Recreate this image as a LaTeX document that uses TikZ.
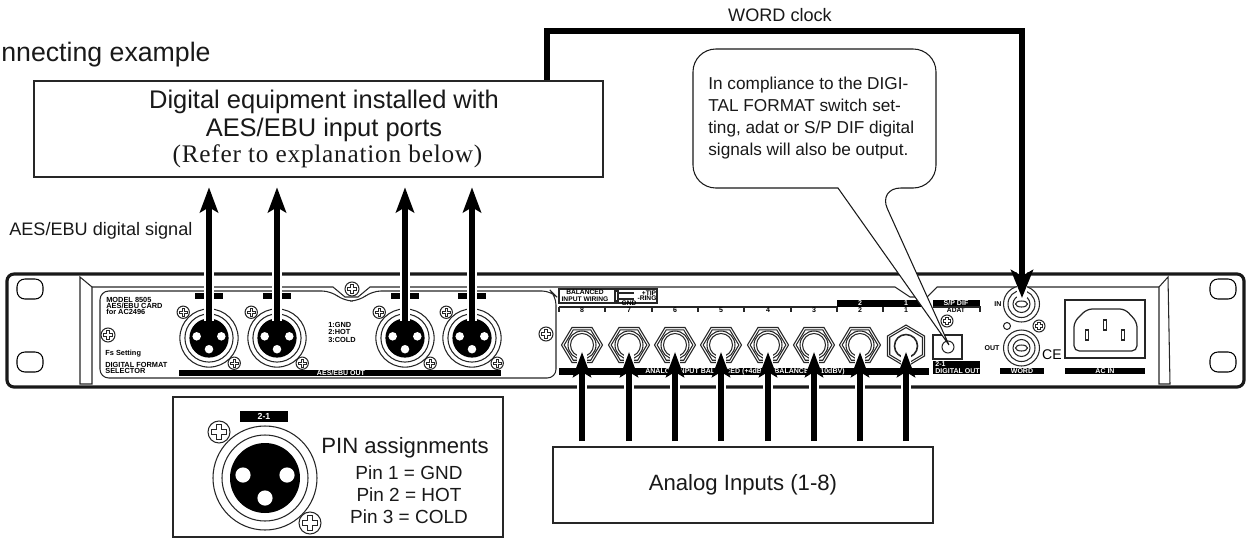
\documentclass[tikz,border=0pt]{standalone}
\usepackage{fontspec}
\usepackage{tikz}
\usetikzlibrary{arrows.meta}
\setmainfont{Liberation Sans}
\setsansfont{Liberation Sans}
\newfontfamily\serifnote[LetterSpace=3]{Liberation Serif}
\tikzset{
	box/.style={draw=black!85,line width=1.5pt,fill=white,inner sep=0pt},
	sigarrow/.style={preaction={draw,white,line width=5.2pt,-},line width=3.4pt,black,-{Stealth[length=0.5cm,width=0.36cm,inset=0.1cm]}},
	label/.style={inner sep=0pt,text=black!90,font=\fontsize{10.3}{12}\selectfont},
	bar/.style={fill=black,draw=none},
	barlabel/.style={inner sep=0pt,text=white,font=\sffamily\bfseries\fontsize{4}{4}\selectfont},
	tinylabel/.style={inner sep=0pt,anchor=west,font=\sffamily\bfseries\fontsize{4.2}{4.4}\selectfont},
	thinpart/.style={line width=0.6pt,draw=black!85},
}
\newcommand{\screwmark}[3]{
	\begin{scope}[shift={(#1,#2)},scale=#3]
	\draw[thinpart,fill=white] (0,0) circle (1);
	\draw[black!85,line width=0.5pt,fill=white] (-0.2,-0.65) -- (0.2,-0.65) -- (0.2,-0.2) -- (0.65,-0.2) -- (0.65,0.2) -- (0.2,0.2) -- (0.2,0.65) -- (-0.2,0.65) -- (-0.2,0.2) -- (-0.65,0.2) -- (-0.65,-0.2) -- (-0.2,-0.2) -- cycle;
	\end{scope}
}
\newcommand{\xlrmark}[3]{
	\begin{scope}[shift={(#1,#2)}]
	\draw[thinpart,fill=white] (0,0) circle ({52*#3});
	\draw[thinpart] (0,0) circle ({43*#3});
	\fill[black] (0,0) circle ({35*#3});
	\fill[white] ({-22*#3},{-3*#3}) circle ({7.6*#3});
	\fill[white] ({22*#3},{-3*#3}) circle ({7.6*#3});
	\fill[white] (0,{20*#3}) circle ({7.6*#3});
	\screwmark{{-46*#3}}{{-46*#3}}{{11*#3}}
	\screwmark{{45*#3}}{{45*#3}}{{11*#3}}
	\end{scope}
}
\begin{document}
\begin{tikzpicture}[x=0.02cm,y=-0.02cm]
	\useasboundingbox (0,0) rectangle (1249,552);

	\draw[black!90,line width=1.8pt,rounded corners=4] (7,274) rectangle (1244,387);
	\foreach \holex in {30,1223}{
		\foreach \holey in {289,362}{
			\draw[black,line width=0.6pt,rounded corners=4.5] (\holex-13,\holey-10) rectangle (\holex+13,\holey+10);
		}
	}
	\draw[thinpart] (80,277) -- (80,384) -- (92,384) -- (92,287) -- cycle;
	\draw[thinpart] (1159,287) -- (1168,277) -- (1170,384) -- (1159,384) -- cycle;
	\draw[thinpart] (92,287) -- (333,287) -- (345,297) -- (358,297) -- (370,287) -- (895,287) -- (910,297) -- (927,297) -- (937,287) -- (1159,287);
	\draw[thinpart,rounded corners=5] (100,291) -- (331,291) -- (344,301) -- (359,301) -- (372,291) -- (551,291) -- (556,296) -- (556,378) -- (100,378) -- cycle;

	\node[tinylabel] (modeltext) at (106,300) {MODEL 8505};
	\node[tinylabel] (cardtext) at (106,306) {AES/EBU CARD};
	\node[tinylabel] (fortext) at (106,312) {for AC2496};
	\node[tinylabel] (fstext) at (105,354) {Fs Setting};
	\node[tinylabel] (formattext) at (105,365) {DIGITAL FORMAT};
	\node[tinylabel] (selectortext) at (105,371) {SELECTOR};
	\node[tinylabel] (gndtext) at (328,325) {1:GND};
	\node[tinylabel] (hottext) at (328,332) {2:HOT};
	\node[tinylabel] (coldtext) at (328,340) {3:COLD};
	\screwmark{108}{335}{7}
	\screwmark{352}{289}{7}
	\screwmark{546}{334}{7}
	\foreach \xlrx in {209,277,405,472}{
		\xlrmark{\xlrx}{338}{0.56}
		\fill[bar] (\xlrx-14,293) rectangle (\xlrx+14,299);
	}
	\fill[bar] (179,370) rectangle (501,376);
	\node[barlabel] (aesout) at (341,373) {AES/EBU OUT};

	\draw[thinpart] (559,289) rectangle (657,303);
	\node[inner sep=0pt,align=center,font=\sffamily\bfseries\fontsize{3.8}{3.8}\selectfont] (wiringtext) at (585,296) {BALANCED\\INPUT WIRING};
	\draw[thinpart] (615,291) rectangle (618,301) (618,293) -- (634,293) (618,299) -- (634,299);
	\node[inner sep=0pt,font=\sffamily\bfseries\fontsize{3.8}{3.8}\selectfont] (tiptext) at (649,293) {+TIP};
	\node[inner sep=0pt,font=\sffamily\bfseries\fontsize{3.8}{3.8}\selectfont] (ringtext) at (647,298) {-RING};
	\node[inner sep=0pt,font=\sffamily\bfseries\fontsize{3.8}{3.8}\selectfont] (gndwire) at (629,303) {GND};
	\draw[thinpart] (559,307) -- (837,307);
	\fill[bar] (837,300) rectangle (929,307);
	\foreach \tickx in {559,605,652,698,744,791,837,883,929}{
		\draw[thinpart] (\tickx,307) -- (\tickx,312);
	}
	\foreach \jackx/\jackn in {582/8,629/7,675/6,721/5,768/4,814/3,860/2,906/1}{
		\node[inner sep=0pt,font=\sffamily\bfseries\fontsize{4}{4}\selectfont] (num\jackn) at (\jackx,310) {\jackn};
	}
	\node[barlabel] (toptwo) at (860,303.5) {2};
	\node[barlabel] (topone) at (906,303.5) {1};
	\fill[bar] (933,300) rectangle (980,307);
	\node[barlabel] (spdif) at (956,303.5) {S/P DIF};
	\node[inner sep=0pt,font=\sffamily\bfseries\fontsize{3.8}{3.8}\selectfont] (adat) at (956,310) {ADAT};
	\draw[thinpart] (933,307) -- (980,307) -- (980,312);

	\foreach \jackx in {582,629,675,721,768,814,860}{
		\begin{scope}[shift={(\jackx,345)}]
		\foreach \hexs in {1,0.87}{
			\draw[thinpart] (-20.5*\hexs,0) -- (-10*\hexs,-17.5*\hexs) -- (10*\hexs,-17.5*\hexs) -- (20.5*\hexs,0) -- (10*\hexs,17.5*\hexs) -- (-10*\hexs,17.5*\hexs) -- cycle;
		}
		\draw[thinpart] (0,0) circle (14);
		\draw[thinpart] (0,0) circle (11.5);
		\end{scope}
	}
	\begin{scope}[shift={(906,346)}]
	\foreach \hexs in {1,0.88}{
		\draw[thinpart] (0,-21*\hexs) -- (18.5*\hexs,-10*\hexs) -- (18.5*\hexs,10*\hexs) -- (0,21*\hexs) -- (-18.5*\hexs,10*\hexs) -- (-18.5*\hexs,-10*\hexs) -- cycle;
	}
	\draw[black!85,line width=0.9pt] (0,0) circle (11.5);
	\end{scope}
	\fill[bar] (559,368) rectangle (929,375);
	\node[barlabel] (analogout) at (745,371.5) {ANALOG INPUT BALANCED (+4dBu) / BALANCED (-10dBV)};

	\screwmark{947}{321}{6}
	\draw[thinpart] (933,335) rectangle (962,359);
	\draw[thinpart] (948,347) circle (6);
	\fill[bar] (933,361) rectangle (980,374);
	\node[barlabel,align=left,anchor=west,font=\sffamily\bfseries\fontsize{4}{4.4}\selectfont] (digitalout) at (935,367.5) {2-1\\DIGITAL OUT};

	\foreach \bncy in {304,348}{
		\begin{scope}[shift={(1021.5,\bncy)}]
		\draw[thinpart,fill=white] (0,0) circle (18);
		\draw[thinpart] (0,0) circle (13.5);
		\draw[thinpart] (0,0) circle (8.5);
		\draw[thinpart] (0,0) ellipse (6 and 3);
		\end{scope}
	}
	\node[inner sep=0pt,font=\sffamily\bfseries\fontsize{4}{4}\selectfont] (intext) at (998,304) {IN};
	\node[inner sep=0pt,font=\sffamily\bfseries\fontsize{4}{4}\selectfont] (outtext) at (992,348) {OUT};
	\draw[thinpart] (1007,326) circle (3.5);
	\screwmark{1039}{326}{6}
	\node[inner sep=0pt,font=\fontsize{8}{8}\selectfont] (cetext) at (1052,355) {CE};
	\fill[bar] (1000,368) rectangle (1044,374);
	\node[barlabel] (wordtext) at (1022,371) {WORD};
	\draw[thinpart] (1065,300) rectangle (1145,358);
	\draw[thinpart,line width=0.7pt,rounded corners=3] (1087,309) -- (1125,309) -- (1137,322) -- (1137,351) -- (1074,351) -- (1074,322) -- cycle;
	\draw[thinpart] (1103.5,320) rectangle (1106.5,330);
	\draw[thinpart] (1085.5,330) rectangle (1088.5,340);
	\draw[thinpart] (1121.5,330) rectangle (1124.5,340);
	\fill[bar] (1065,368) rectangle (1145,374);
	\node[barlabel] (acin) at (1105,371) {AC IN};

	\node[box,minimum width=569*0.02cm,minimum height=96*0.02cm] (dig) at (318.5,129) {};
	\node[inner sep=0pt,align=center,text=black!90,font=\fontsize{14.5}{16}\selectfont] (digtext) at (324,116) {Digital equipment installed with\\AES/EBU input ports};
	\node[inner sep=0pt,text=black!90,font=\serifnote\fontsize{14.4}{16}\selectfont] (refertext) at (327.5,156) {(Refer to explanation below)};
	\node[label,font=\fontsize{15.2}{18}\selectfont,anchor=east] (headtext) at (211,55) {nnecting example};
	\node[label,anchor=west] (aestext) at (9,231) {AES/EBU digital signal};
	\node[label] (wordclock) at (780,15) {WORD clock};

	\foreach \xlrx/\xlrn in {209/1,277/2,405/3,472/4}{
		\coordinate (xlrtop\xlrn) at (\xlrx,321);
		\draw[sigarrow] (xlrtop\xlrn) -- ([yshift=-0.18cm]dig.south -| xlrtop\xlrn);
	}

	\coordinate (wordin) at (1022,298);
	\coordinate (wordturn) at (547,31);
	\draw[preaction={draw,white,line width=5.2pt,-},line width=3.4pt,black,-{Stealth[length=0.56cm,width=0.44cm,inset=0.12cm]}] (dig.north -| wordturn) -- (wordturn) -| (wordin);

	\node[box,minimum width=380*0.02cm,minimum height=76*0.02cm,font=\fontsize{12.6}{15}\selectfont,text=black!90] (analog) at (743,485) {Analog Inputs (1-8)};
	\foreach \jackx/\jackn in {582/8,629/7,675/6,721/5,768/4,814/3,860/2,906/1}{
		\coordinate (jack\jackn) at (\jackx,352);
		\draw[sigarrow] ([yshift=0.09cm]analog.north -| jack\jackn) -- (jack\jackn);
	}

	\coordinate (notetip) at (949,345);
	\draw[black!90,line width=0.6pt,fill=white,rounded corners=13] (693,49) -- (936,49) -- (936,188) -- (878,188) [sharp corners] -- (notetip) -- (838,188) [rounded corners=13] -- (693,188) -- cycle;
	\node[inner sep=0pt,align=left,anchor=north west,text=black!90,font=\fontsize{9.8}{12.5}\selectfont] (notetext) at (708,77) {In compliance to the DIGI-\\TAL FORMAT switch set-\\ting, adat or S/P DIF digital\\signals will also be output.};

	\draw[black!85,line width=0.6pt,fill=white] (173,397) rectangle (503,537);
	\xlrmark{265}{478}{1}
	\fill[bar] (240,411) rectangle (288,422);
	\node[barlabel,font=\sffamily\bfseries\fontsize{5}{5}\selectfont] (pinlabel) at (264,416.5) {2-1};
	\node[inner sep=0pt,text=black!90,font=\fontsize{12.6}{15}\selectfont] (pintitle) at (405,448) {PIN assignments};
	\foreach \piny/\pintext in {473/Pin 1 = GND,495/Pin 2 = HOT,517/Pin 3 = COLD}{
		\node[inner sep=0pt,text=black!90,font=\fontsize{10.8}{12}\selectfont] at (409,\piny) {\pintext};
	}
\end{tikzpicture}
\end{document}
